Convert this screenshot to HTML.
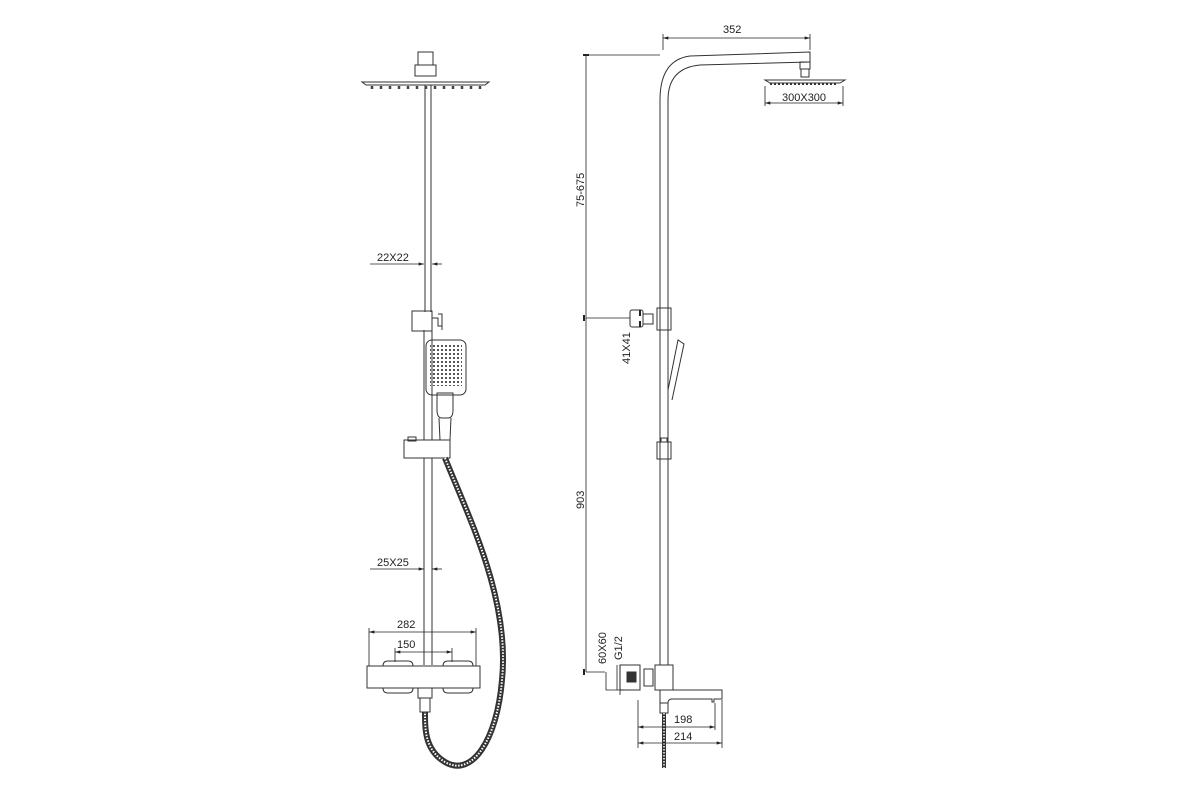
<!DOCTYPE html>
<html><head><style>body{margin:0;background:#fff}svg{display:block}text{font-family:"Liberation Sans",sans-serif;font-size:11px;fill:#222}</style></head>
<body>
<svg width="1200" height="800" viewBox="0 0 1200 800" xmlns="http://www.w3.org/2000/svg">
<defs><marker id="a" viewBox="0 0 10 6" refX="10" refY="3" markerWidth="7" markerHeight="4" orient="auto-start-reverse"><path d="M0,0L10,3L0,6z" fill="#222"/></marker>
<pattern id="dots" width="4" height="4" patternUnits="userSpaceOnUse"><rect x="1" y="1" width="2" height="2" fill="#555"/></pattern></defs>
<g fill="none" stroke="#333" stroke-width="1">
<rect x="418" y="52" width="15" height="13"/><rect x="415" y="65" width="21" height="11"/>
<path d="M362 82 L489 82 L485 85 L366 85 Z"/>
<g stroke-width="2.5" stroke="#444"><path d="M372 86v3M381 86v3M390 86v3M399 86v3M408 86v3M417 86v3M426 86v3M435 86v3M444 86v3M453 86v3M462 86v3M471 86v3M480 86v3"/></g>
<path d="M425 85V312M431 85V312M424 330V440M432 330V440M424 458V665M432 458V665"/>
<rect x="412" y="311" width="20" height="20"/><path d="M432 318h6v8h4M438 314h4v16"/>
<rect x="426" y="340" width="40" height="55" rx="6"/><rect x="430" y="344" width="32" height="42" fill="url(#dots)" stroke="none"/>
<path d="M437 393 L437 410 Q437 418 442 418 L448 418 Q453 418 453 410 L453 393 Z"/>
<path d="M439 418 L440 440 L450 440 L451 418"/>
<rect x="404" y="440" width="46" height="18"/><rect x="408" y="437" width="8" height="4"/>
<rect x="367" y="666" width="113" height="22"/>
<path d="M383 666q0-5 5-5h20q5 0 5 5M443 666q0-5 5-5h20q5 0 5 5M383 688q0 5 5 5h20q5 0 5-5M443 688q0 5 5 5h20q5 0 5-5"/>
<rect x="418" y="688" width="14" height="10"/><rect x="420" y="698" width="10" height="14"/>
<path d="M445 458 C470 520 510 600 502 680 C497 740 472 778 445 762 C425 750 425 730 425 712" stroke="#333" stroke-width="6"/>
<path d="M445 458 C470 520 510 600 502 680 C497 740 472 778 445 762 C425 750 425 730 425 712" stroke="#fff" stroke-width="2" stroke-dasharray="1.5 1.5"/>
<g stroke="#222" stroke-width="0.8">
<path d="M370 264H424" marker-end="url(#a)"/><path d="M432 264H442" marker-start="url(#a)"/>
<path d="M370 569H424" marker-end="url(#a)"/><path d="M432 569H442" marker-start="url(#a)"/>
<path d="M369 632H476" marker-start="url(#a)" marker-end="url(#a)"/><path d="M369 628V666M476 628V666"/>
<path d="M395 652H452" marker-start="url(#a)" marker-end="url(#a)"/><path d="M395 648V662M452 648V662"/>
</g>
<path d="M660 665V100 Q660 60 690 56 L810 52 V62 L700 65 Q668 68 668 100 V665"/>
<rect x="800" y="62" width="10" height="7"/><rect x="801" y="69" width="8" height="8"/>
<path d="M765 80 H845 L840 83 H770 Z"/><path d="M770 84H838" stroke-width="2" stroke-dasharray="2 2"/>
<rect x="657" y="308" width="14" height="22"/><rect x="643" y="314" width="10" height="10"/><rect x="630" y="310" width="13" height="17" rx="2"/>
<path d="M668 390 L678 340 L684 344 L672 400"/>
<rect x="657" y="442" width="14" height="17"/><rect x="661" y="438" width="6" height="4"/>
<rect x="620" y="665" width="20" height="25"/><rect x="627" y="672" width="9" height="10" fill="#333"/>
<rect x="644" y="669" width="9" height="17"/><rect x="655" y="665" width="18" height="25"/>
<path d="M657 690 H722 V699 H714 V702 H712 V699 H672 Q668 699 668 703 H660 V690"/>
<rect x="660" y="703" width="8" height="10"/>
<path d="M664 713V768" stroke="#333" stroke-width="4"/><path d="M664 713V768" stroke="#fff" stroke-width="1.5" stroke-dasharray="1.5 1.5"/>
<g stroke="#222" stroke-width="0.8">
<path d="M663 38H810" marker-start="url(#a)" marker-end="url(#a)"/><path d="M663 34V50M810 34V50"/>
<path d="M765 103H843" marker-start="url(#a)" marker-end="url(#a)"/><path d="M765 86V106M843 86V106"/>
<path d="M586 55V318" /><path d="M586 318V672"/><path d="M586 55H660M586 318H630M586 672H605"/>
<path d="M583 55h6M584 315v6M584 669v6" stroke-width="2"/>
<path d="M640 310v6M640 321v6" stroke-width="2"/>
<path d="M606 672V690H625M617 665V690" /><path d="M620 665V695"/>
<path d="M638 727H715" marker-start="url(#a)" marker-end="url(#a)"/><path d="M638 700V748M715 703V730"/>
<path d="M638 743H722" marker-start="url(#a)" marker-end="url(#a)"/><path d="M722 700V748"/>
</g>
</g>
<text x="377" y="261">22X22</text><text x="377" y="566">25X25</text>
<text x="397" y="628">282</text><text x="397" y="648">150</text>
<text x="723" y="33">352</text><text x="782" y="101">300X300</text>
<text x="674" y="723">198</text><text x="674" y="740">214</text>
<text transform="translate(584,207) rotate(-90)">75-675</text>
<text transform="translate(584,509) rotate(-90)">903</text>
<text transform="translate(630,364) rotate(-90)">41X41</text>
<text transform="translate(606,664) rotate(-90)">60X60</text>
<text transform="translate(622,660) rotate(-90)">G1/2</text>
</svg>
</body></html>
